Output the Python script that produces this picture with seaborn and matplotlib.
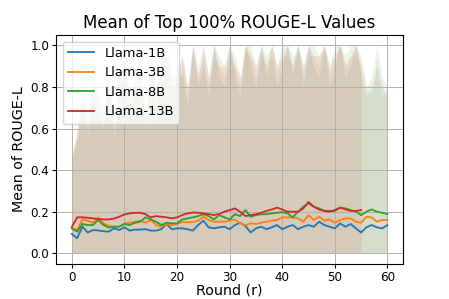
import numpy as np
import pandas as pd
import matplotlib
matplotlib.use('Agg')
import matplotlib.pyplot as plt
import seaborn as sns

# Mean ROUGE-L per round for each model
models = ['Llama-1B', 'Llama-3B', 'Llama-8B', 'Llama-13B']
colors = ['#1f77b4', '#ff7f0e', '#2ca02c', '#d62728']

mean_1b = [0.093, 0.073, 0.128, 0.100, 0.112, 0.110, 0.106, 0.104, 0.120, 0.112,
           0.125, 0.109, 0.114, 0.114, 0.116, 0.109, 0.109, 0.116, 0.141, 0.116,
           0.120, 0.120, 0.116, 0.109, 0.136, 0.157, 0.125, 0.120, 0.125, 0.128,
           0.116, 0.136, 0.147, 0.131, 0.100, 0.120, 0.128, 0.116, 0.125, 0.136,
           0.116, 0.128, 0.136, 0.116, 0.128, 0.136, 0.128, 0.152, 0.136, 0.128,
           0.120, 0.144, 0.128, 0.141, 0.120, 0.100, 0.125, 0.136, 0.125, 0.120,
           0.136]
mean_3b = [0.120, 0.112, 0.163, 0.157, 0.147, 0.173, 0.144, 0.131, 0.128, 0.128,
           0.144, 0.147, 0.152, 0.157, 0.147, 0.160, 0.136, 0.128, 0.141, 0.136,
           0.141, 0.150, 0.150, 0.150, 0.157, 0.176, 0.160, 0.152, 0.152, 0.152,
           0.157, 0.163, 0.144, 0.136, 0.144, 0.141, 0.147, 0.152, 0.157, 0.160,
           0.173, 0.173, 0.173, 0.168, 0.152, 0.184, 0.160, 0.176, 0.157, 0.163,
           0.147, 0.160, 0.168, 0.168, 0.152, 0.147, 0.176, 0.173, 0.152, 0.160,
           0.160]
mean_8b = [0.120, 0.104, 0.141, 0.136, 0.136, 0.160, 0.136, 0.124, 0.128, 0.128,
           0.141, 0.136, 0.147, 0.152, 0.173, 0.163, 0.152, 0.136, 0.147, 0.144,
           0.144, 0.163, 0.168, 0.173, 0.179, 0.188, 0.179, 0.163, 0.184, 0.173,
           0.163, 0.188, 0.179, 0.208, 0.176, 0.184, 0.188, 0.188, 0.192, 0.195,
           0.198, 0.192, 0.173, 0.200, 0.224, 0.240, 0.224, 0.216, 0.204, 0.204,
           0.204, 0.220, 0.216, 0.208, 0.200, 0.184, 0.200, 0.211, 0.200, 0.195,
           0.189]
mean_13b = [0.128, 0.173, 0.173, 0.171, 0.168, 0.165, 0.163, 0.163, 0.167, 0.176,
            0.187, 0.192, 0.195, 0.195, 0.188, 0.173, 0.179, 0.176, 0.173, 0.168,
            0.173, 0.184, 0.192, 0.196, 0.195, 0.192, 0.189, 0.184, 0.189, 0.200,
            0.208, 0.216, 0.200, 0.179, 0.184, 0.188, 0.195, 0.204, 0.211, 0.220,
            0.211, 0.200, 0.200, 0.200, 0.216, 0.247, 0.224, 0.211, 0.204, 0.200,
            0.208, 0.220, 0.211, 0.204, 0.204, 0.208]

# Upper bound (max) per round; lower bound is 0 for every model
max_1b = [0.45, 0.55, 0.70, 0.60, 0.80, 0.65, 0.60, 0.85, 0.55, 0.80,
          0.90, 0.70, 0.80, 0.75, 0.60, 0.90, 0.70, 0.90, 1.00, 0.75,
          0.85, 0.85, 0.70, 1.00, 0.80, 0.90, 0.75, 1.00, 0.85, 0.80,
          1.00, 0.85, 0.75, 1.00, 0.90, 0.80, 1.00, 0.85, 0.95, 0.80,
          0.90, 1.00, 0.85, 1.00, 0.80, 1.00, 0.90, 0.85, 1.00, 0.80,
          0.90, 1.00, 0.85, 0.90, 1.00, 0.85, 0.75, 0.80, 0.90, 0.80,
          0.75]
max_3b = [0.45, 0.60, 0.75, 0.55, 0.75, 0.70, 0.65, 0.80, 0.60, 0.75,
          0.95, 0.65, 0.85, 0.80, 0.65, 0.85, 0.75, 0.95, 0.95, 0.80,
          0.80, 0.90, 0.75, 0.95, 0.85, 0.95, 0.80, 0.95, 0.90, 0.85,
          0.95, 0.90, 0.80, 1.00, 0.95, 0.85, 0.95, 0.90, 1.00, 0.85,
          0.95, 0.95, 0.90, 1.00, 0.85, 0.95, 0.95, 0.90, 1.00, 0.85,
          0.95, 1.00, 0.90, 0.95, 0.95, 0.90, 0.80, 0.75, 0.95, 0.75,
          0.80]
max_8b = [0.50, 0.55, 0.80, 0.65, 0.80, 0.75, 0.70, 0.90, 0.65, 0.85,
          1.00, 0.75, 0.90, 0.85, 0.70, 0.95, 0.80, 1.00, 1.00, 0.85,
          0.90, 0.95, 0.80, 1.00, 0.90, 1.00, 0.85, 1.00, 0.95, 0.90,
          1.00, 0.95, 0.85, 1.00, 1.00, 0.90, 1.00, 0.95, 1.00, 0.90,
          1.00, 1.00, 0.95, 1.00, 0.90, 1.00, 1.00, 0.95, 1.00, 0.90,
          1.00, 1.00, 0.95, 1.00, 1.00, 0.95, 0.80, 0.85, 1.00, 0.85,
          0.80]
max_13b = [0.45, 0.60, 0.75, 0.65, 0.85, 0.75, 0.65, 0.85, 0.60, 0.80,
           1.00, 0.75, 0.85, 0.85, 0.70, 0.90, 0.80, 1.00, 1.00, 0.85,
           0.85, 0.95, 0.80, 1.00, 0.85, 1.00, 0.85, 1.00, 0.90, 0.90,
           1.00, 0.90, 0.85, 1.00, 0.95, 0.90, 1.00, 0.90, 1.00, 0.90,
           0.95, 1.00, 0.90, 1.00, 0.90, 1.00, 0.95, 0.95, 1.00, 0.90,
           0.95, 1.00, 0.90, 0.95, 1.00, 0.90]

means = [mean_1b, mean_3b, mean_8b, mean_13b]
maxes = [max_1b, max_3b, max_8b, max_13b]

frames = []
for name, m in zip(models, means):
    frames.append(pd.DataFrame({'Round': np.arange(len(m)), 'Mean': m, 'Model': name}))
df = pd.concat(frames, ignore_index=True)

fig = plt.figure(figsize=(4.49, 2.99), dpi=100)
ax = fig.add_axes([0.125, 0.118, 0.773, 0.765])

# shaded range, min (0) to max
for m, c in zip(maxes, colors):
    r = np.arange(len(m))
    ax.fill_between(r, np.zeros(len(m)), m, color=c, alpha=0.1, linewidth=0)

sns.lineplot(data=df, x='Round', y='Mean', hue='Model', hue_order=models,
             palette=colors, linewidth=1.3, ax=ax)

ax.grid(True, color='#b0b0b0', linewidth=0.7)
ax.set_title('Mean of Top 100% ROUGE-L Values', fontsize=12, pad=5)
ax.set_xlabel('Round (r)', fontsize=10.3)
ax.xaxis.set_label_coords(0.5, -0.085)
ax.set_ylabel('Mean of ROUGE-L', fontsize=10.3, labelpad=3)
ax.tick_params(labelsize=8.6, length=3, pad=2)
ax.set_xticks(range(0, 61, 10))
ax.set_yticks([0.0, 0.2, 0.4, 0.6, 0.8, 1.0])
ax.legend(loc='upper left', fontsize=9.4, title=None)

fig.savefig('out.png', dpi=100)
